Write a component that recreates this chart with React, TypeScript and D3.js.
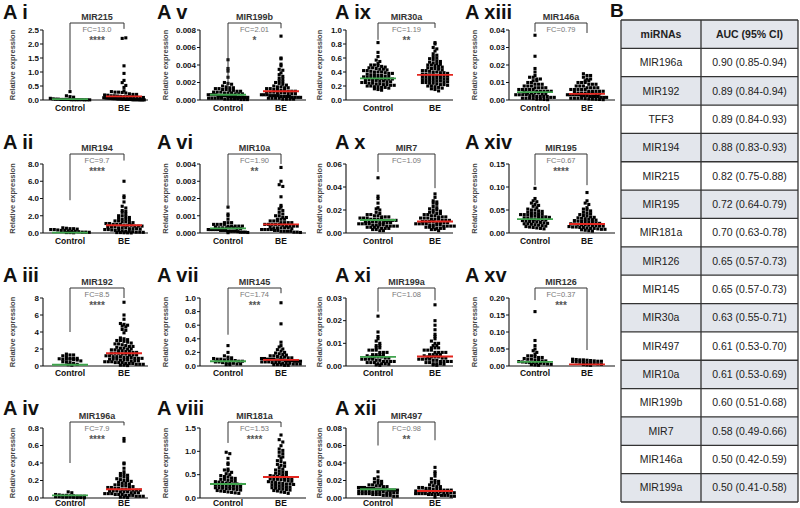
import React from 'react';
import * as d3 from 'd3';

// ---- data ----
const iCtrl = [0.3,0.15,0.12,0.1,0.06,0.04,0.03,0.03,0.02,0.02,0.02,0.02,0.01,0.01,0.01,0.01,0.01,0.005,0.005,0.005];
const iBE = [2.2,2.22,1.22,0.95,0.7,0.62,0.52,0.45,0.33,0.3,0.28,0.28,0.27,0.25,0.22,0.2,0.2,0.18,0.17,0.15,0.15,0.14,0.13,0.12,0.12,0.11,0.1,0.1,0.09,0.09,0.08,0.08,0.07,0.07,0.06,0.06,0.05,0.05,0.05,0.04,0.04,0.04,0.03,0.03,0.03,0.02,0.02,0.02,0.02,0.01,0.01,0.01,0.01,0.01,0.005,0.005,0.005,0.005];

const vCtrl = [0.0046,0.0036,0.0033,0.0026,0.002,0.0019,0.0018,0.0016,0.0015,0.0014,0.0014,0.0013,0.0013,0.0012,0.0012,0.0011,0.0011,0.001,0.001,0.0009,0.0009,0.0009,0.0008,0.0008,0.0008,0.0007,0.0007,0.0007,0.0006,0.0006,0.0006,0.0006,0.0005,0.0005,0.0005,0.0005,0.0004,0.0004,0.0004,0.0004,0.0003,0.0003,0.0003,0.0003,0.0003,0.0002,0.0002,0.0002,0.0002,0.0002,0.0001,0.0001,0.0001,0.0001,0.0001,0.00005,0.00005,0.00005];
const vBE = [0.0073,0.0048,0.0047,0.0041,0.0039,0.0035,0.0034,0.0031,0.0029,0.0027,0.0025,0.0024,0.0022,0.0021,0.002,0.0019,0.0018,0.0017,0.0016,0.0015,0.0015,0.0014,0.0014,0.0013,0.0013,0.0012,0.0012,0.0011,0.0011,0.001,0.001,0.001,0.0009,0.0009,0.0009,0.0008,0.0008,0.0008,0.0007,0.0007,0.0007,0.0006,0.0006,0.0006,0.0005,0.0005,0.0005,0.0005,0.0004,0.0004,0.0004,0.0004,0.0003,0.0003,0.0003,0.0003,0.0002,0.0002,0.0002,0.0002,0.0001,0.0001,0.0001,0.0001];

const ixCtrl = [0.82,0.68,0.62,0.57,0.55,0.52,0.5,0.5,0.49,0.48,0.47,0.46,0.46,0.45,0.44,0.44,0.43,0.42,0.42,0.41,0.4,0.4,0.4,0.39,0.38,0.38,0.37,0.36,0.36,0.35,0.35,0.34,0.34,0.33,0.33,0.32,0.32,0.31,0.31,0.3,0.3,0.3,0.29,0.29,0.28,0.28,0.27,0.27,0.26,0.26,0.25,0.25,0.24,0.24,0.23,0.23,0.22,0.22,0.21,0.21,0.2,0.2,0.19,0.19,0.18,0.18,0.17,0.16,0.15,0.14];
const ixBE = [0.82,0.8,0.75,0.73,0.7,0.66,0.64,0.62,0.6,0.59,0.58,0.56,0.55,0.54,0.53,0.52,0.51,0.5,0.5,0.49,0.48,0.47,0.46,0.45,0.45,0.44,0.43,0.42,0.42,0.41,0.4,0.4,0.39,0.39,0.38,0.37,0.37,0.36,0.36,0.35,0.35,0.34,0.34,0.33,0.33,0.32,0.32,0.31,0.31,0.3,0.3,0.29,0.29,0.28,0.28,0.27,0.27,0.26,0.26,0.25,0.25,0.24,0.24,0.23,0.22,0.22,0.21,0.2,0.2,0.19,0.18,0.17,0.16,0.15,0.13];

const xiiiCtrl = [0.037,0.025,0.018,0.016,0.014,0.013,0.013,0.012,0.012,0.011,0.011,0.01,0.01,0.009,0.009,0.009,0.008,0.008,0.008,0.007,0.007,0.007,0.007,0.006,0.006,0.006,0.006,0.006,0.005,0.005,0.005,0.005,0.005,0.0045,0.004,0.004,0.004,0.004,0.0035,0.0035,0.003,0.003,0.003,0.003,0.0025,0.0025,0.002,0.002,0.002,0.002,0.0015,0.0015,0.001,0.001,0.001,0.0008,0.0005,0.0005,0.0003,0.0002];
const xiiiBE = [0.015,0.014,0.014,0.013,0.012,0.012,0.011,0.011,0.01,0.01,0.01,0.009,0.009,0.009,0.008,0.008,0.008,0.007,0.007,0.007,0.007,0.006,0.006,0.006,0.006,0.006,0.005,0.005,0.005,0.005,0.005,0.0045,0.004,0.004,0.004,0.004,0.004,0.0035,0.0035,0.003,0.003,0.003,0.003,0.003,0.0025,0.0025,0.0025,0.002,0.002,0.002,0.002,0.0015,0.0015,0.0015,0.001,0.001,0.001,0.001,0.0008,0.0006,0.0005,0.0004,0.0003,0.0002];

const iiCtrl = [0.6,0.55,0.5,0.5,0.45,0.4,0.4,0.35,0.3,0.3,0.25,0.2,0.2,0.15,0.1,0.1,0.08,0.05,0.05,0.03];
const iiBE = [6.0,4.3,4.1,3.6,3.1,2.9,2.6,2.5,2.4,2.2,2.0,2.0,1.9,1.8,1.7,1.6,1.6,1.5,1.4,1.4,1.3,1.3,1.2,1.2,1.1,1.1,1.0,1.0,1.0,0.9,0.9,0.9,0.8,0.8,0.8,0.7,0.7,0.7,0.6,0.6,0.6,0.5,0.5,0.5,0.45,0.4,0.4,0.35,0.3,0.3,0.25,0.2,0.2,0.15,0.1,0.1,0.08,0.05,0.05,0.03,0.02,0.01];

const viCtrl = [0.0015,0.0011,0.001,0.0008,0.0006,0.0006,0.0006,0.0005,0.0005,0.0005,0.0005,0.0004,0.0004,0.0004,0.0004,0.0004,0.00035,0.0003,0.0003,0.0003,0.0003,0.0003,0.00025,0.00025,0.0002,0.0002,0.0002,0.0002,0.0002,0.00015,0.00015,0.00015,0.0001,0.0001,0.0001,0.0001,0.00008,0.00005,0.00005,0.00005,0.00003,0.00002];
const viBE = [0.0038,0.003,0.0028,0.0027,0.0021,0.0016,0.0015,0.0014,0.0013,0.0012,0.0011,0.001,0.001,0.0009,0.0009,0.0008,0.0008,0.0008,0.0007,0.0007,0.0007,0.0006,0.0006,0.0006,0.0006,0.0005,0.0005,0.0005,0.0005,0.0005,0.00045,0.0004,0.0004,0.0004,0.0004,0.00035,0.0003,0.0003,0.0003,0.0003,0.0003,0.00025,0.0002,0.0002,0.0002,0.0002,0.00015,0.00015,0.0001,0.0001,0.0001,0.0001,0.00005,0.00005,0.00003];

const xCtrl = [0.048,0.032,0.03,0.026,0.022,0.021,0.02,0.018,0.017,0.016,0.016,0.015,0.015,0.014,0.014,0.014,0.013,0.013,0.013,0.012,0.012,0.012,0.012,0.011,0.011,0.011,0.011,0.01,0.01,0.01,0.01,0.009,0.009,0.009,0.009,0.008,0.008,0.008,0.008,0.007,0.007,0.007,0.007,0.006,0.006,0.006,0.006,0.005,0.005,0.005,0.005,0.004,0.004,0.004,0.003,0.003,0.002,0.002];
const xBE = [0.034,0.031,0.028,0.027,0.026,0.025,0.023,0.022,0.021,0.02,0.02,0.019,0.018,0.018,0.017,0.017,0.016,0.016,0.015,0.015,0.014,0.014,0.014,0.013,0.013,0.013,0.012,0.012,0.012,0.011,0.011,0.011,0.01,0.01,0.01,0.01,0.009,0.009,0.009,0.009,0.008,0.008,0.008,0.008,0.007,0.007,0.007,0.007,0.006,0.006,0.006,0.006,0.005,0.005,0.005,0.004,0.004,0.004,0.003,0.003,0.002];

const xivCtrl = [0.097,0.075,0.07,0.068,0.065,0.062,0.06,0.058,0.055,0.052,0.05,0.05,0.048,0.047,0.045,0.044,0.043,0.042,0.041,0.04,0.04,0.039,0.038,0.037,0.036,0.035,0.035,0.034,0.033,0.032,0.031,0.03,0.03,0.029,0.028,0.027,0.026,0.025,0.025,0.024,0.023,0.022,0.021,0.02,0.02,0.019,0.018,0.017,0.016,0.015,0.014,0.013,0.012,0.011,0.01,0.009];
const xivBE = [0.088,0.07,0.065,0.062,0.055,0.052,0.05,0.048,0.045,0.043,0.042,0.04,0.038,0.037,0.035,0.034,0.033,0.032,0.031,0.03,0.029,0.028,0.027,0.026,0.025,0.025,0.024,0.023,0.022,0.021,0.02,0.02,0.019,0.018,0.018,0.017,0.016,0.016,0.015,0.015,0.014,0.013,0.013,0.012,0.012,0.011,0.01,0.01,0.009,0.008,0.008,0.007,0.006,0.005,0.004];

const iiiCtrl = [1.4,1.3,1.3,1.2,1.1,0.9,0.9,0.9,0.85,0.8,0.8,0.8,0.75,0.7,0.6,0.5,0.45,0.4,0.3,0.2,0.15,0.1];
const iiiBE = [7.5,6.0,5.5,5.0,4.9,4.8,4.7,4.6,4.3,4.2,3.9,3.3,3.2,3.1,3.0,3.0,2.9,2.8,2.7,2.6,2.6,2.5,2.4,2.3,2.3,2.2,2.1,2.1,2.0,2.0,1.9,1.9,1.8,1.8,1.7,1.7,1.6,1.6,1.5,1.5,1.5,1.4,1.4,1.3,1.3,1.3,1.2,1.2,1.1,1.1,1.1,1.0,1.0,1.0,0.9,0.9,0.9,0.8,0.8,0.8,0.7,0.7,0.7,0.6,0.6,0.6,0.5,0.5,0.5,0.4,0.4,0.4,0.3,0.3,0.3,0.2,0.2,0.2,0.1,0.1,0.05];

const viiCtrl = [0.3,0.2,0.15,0.13,0.12,0.11,0.1,0.1,0.09,0.09,0.08,0.08,0.07,0.07,0.06,0.06,0.05,0.05,0.04,0.04,0.03,0.03,0.02,0.02];
const viiBE = [0.93,0.62,0.35,0.3,0.28,0.25,0.24,0.22,0.2,0.19,0.18,0.17,0.16,0.15,0.15,0.14,0.13,0.13,0.12,0.12,0.11,0.11,0.1,0.1,0.1,0.09,0.09,0.09,0.08,0.08,0.08,0.07,0.07,0.07,0.06,0.06,0.06,0.05,0.05,0.05,0.04,0.04,0.04,0.03,0.03,0.03,0.02,0.02,0.02,0.01,0.01];

const xiCtrl = [0.022,0.015,0.013,0.012,0.011,0.01,0.009,0.009,0.008,0.008,0.007,0.007,0.007,0.006,0.006,0.006,0.005,0.005,0.005,0.005,0.0045,0.004,0.004,0.004,0.004,0.0035,0.0035,0.003,0.003,0.003,0.003,0.0025,0.0025,0.002,0.002,0.002,0.002,0.0015,0.0015,0.0015,0.001,0.001,0.001,0.0008,0.0005,0.0003];
const xiBE = [0.027,0.02,0.018,0.016,0.014,0.013,0.012,0.011,0.01,0.01,0.009,0.009,0.008,0.008,0.008,0.007,0.007,0.007,0.006,0.006,0.006,0.006,0.005,0.005,0.005,0.005,0.0045,0.004,0.004,0.004,0.004,0.0035,0.0035,0.003,0.003,0.003,0.003,0.0025,0.0025,0.002,0.002,0.002,0.002,0.0015,0.0015,0.001,0.001,0.001,0.0008,0.0005,0.0003];

const xvCtrl = [0.16,0.075,0.06,0.05,0.045,0.04,0.035,0.03,0.03,0.028,0.025,0.025,0.022,0.02,0.02,0.018,0.017,0.015,0.015,0.013,0.012,0.011,0.01,0.01,0.009,0.008,0.007,0.006,0.005,0.004,0.003,0.002];
const xvBE = [0.02,0.019,0.018,0.018,0.017,0.016,0.015,0.014,0.014,0.013,0.012,0.011,0.01,0.009,0.008,0.007,0.006,0.005,0.004,0.003,0.002];

const ivCtrl = [0.07,0.06,0.04,0.035,0.03,0.03,0.025,0.025,0.02,0.02,0.02,0.015,0.015,0.01,0.01,0.01,0.008,0.005,0.005,0.003];
const ivBE = [0.68,0.65,0.4,0.39,0.34,0.3,0.28,0.27,0.26,0.25,0.24,0.23,0.22,0.21,0.2,0.2,0.19,0.18,0.17,0.17,0.16,0.15,0.15,0.14,0.14,0.13,0.13,0.12,0.12,0.11,0.11,0.1,0.1,0.1,0.09,0.09,0.09,0.08,0.08,0.08,0.07,0.07,0.07,0.06,0.06,0.06,0.05,0.05,0.05,0.04,0.04,0.04,0.03,0.03,0.03,0.02,0.02,0.02,0.01,0.01,0.005];

const viiiCtrl = [0.98,0.95,0.85,0.75,0.72,0.62,0.6,0.58,0.55,0.52,0.5,0.48,0.46,0.45,0.43,0.42,0.4,0.4,0.38,0.37,0.36,0.35,0.34,0.33,0.32,0.31,0.3,0.3,0.29,0.28,0.28,0.27,0.26,0.25,0.25,0.24,0.23,0.22,0.22,0.21,0.2,0.2,0.19,0.18,0.17,0.16,0.15,0.14,0.13,0.12,0.11,0.1];
const viiiBE = [1.35,1.25,1.2,1.12,1.05,1.02,0.98,0.95,0.9,0.88,0.85,0.8,0.78,0.75,0.72,0.7,0.68,0.65,0.62,0.6,0.58,0.56,0.55,0.53,0.52,0.5,0.5,0.48,0.47,0.46,0.45,0.44,0.43,0.42,0.41,0.4,0.4,0.39,0.38,0.37,0.36,0.35,0.34,0.33,0.32,0.31,0.3,0.3,0.29,0.28,0.27,0.26,0.25,0.24,0.23,0.22,0.21,0.2,0.19,0.18,0.17,0.16,0.15,0.13,0.12,0.1];

const xiiCtrl = [0.03,0.024,0.022,0.02,0.019,0.018,0.017,0.016,0.015,0.015,0.014,0.014,0.013,0.013,0.012,0.012,0.012,0.011,0.011,0.011,0.01,0.01,0.01,0.01,0.009,0.009,0.009,0.009,0.008,0.008,0.008,0.008,0.007,0.007,0.007,0.007,0.006,0.006,0.006,0.006,0.005,0.005,0.005,0.005,0.004,0.004,0.004,0.003,0.003,0.003,0.002,0.002];
const xiiBE = [0.035,0.03,0.028,0.025,0.022,0.02,0.019,0.018,0.017,0.016,0.015,0.014,0.013,0.013,0.012,0.012,0.011,0.011,0.01,0.01,0.01,0.009,0.009,0.009,0.008,0.008,0.008,0.008,0.007,0.007,0.007,0.007,0.006,0.006,0.006,0.006,0.005,0.005,0.005,0.005,0.004,0.004,0.004,0.004,0.003,0.003,0.003,0.002,0.002,0.001];

const groups = ['Control', 'BE'];

// table B
const tableHeader = ['miRNAs', 'AUC (95% CI)'];
const tableGenes = ['MIR196a','MIR192','TFF3','MIR194','MIR215','MIR195','MIR181a','MIR126','MIR145','MIR30a','MIR497','MIR10a','MIR199b','MIR7','MIR146a','MIR199a'];
const tableAuc = ['0.90 (0.85-0.94)','0.89 (0.84-0.94)','0.89 (0.84-0.93)','0.88 (0.83-0.93)','0.82 (0.75-0.88)','0.72 (0.64-0.79)','0.70 (0.63-0.78)','0.65 (0.57-0.73)','0.65 (0.57-0.73)','0.63 (0.55-0.71)','0.61 (0.53-0.70)','0.61 (0.53-0.69)','0.60 (0.51-0.68)','0.58 (0.49-0.66)','0.50 (0.42-0.59)','0.50 (0.41-0.58)'];

type Panel = {
  id: string; gene: string; fc: string; stars: string; col: number; row: number;
  ticks: number[]; fmt: string; ctrl: number[]; be: number[];
  lines: [number, number]; legs: [number, number];
};

const panels: Panel[] = [
  { id: 'i', gene: 'MIR215', fc: 'FC=13.0', stars: '****', col: 0, row: 0, ticks: [0, 0.5, 1, 1.5, 2, 2.5], fmt: '.1f', ctrl: iCtrl, be: iBE, lines: [0.03, 0.13], legs: [0.36, 2.54] },
  { id: 'ii', gene: 'MIR194', fc: 'FC=9.7', stars: '****', col: 0, row: 1, ticks: [0, 2, 4, 6, 8], fmt: '.1f', ctrl: iiCtrl, be: iiBE, lines: [0.05, 0.9], legs: [3.8, 8.4] },
  { id: 'iii', gene: 'MIR192', fc: 'FC=8.5', stars: '****', col: 0, row: 2, ticks: [0, 2, 4, 6, 8], fmt: 'd', ctrl: iiiCtrl, be: iiiBE, lines: [0.15, 1.5], legs: [4.0, 8.0] },
  { id: 'iv', gene: 'MIR196a', fc: 'FC=7.9', stars: '****', col: 0, row: 3, ticks: [0, 0.2, 0.4, 0.6, 0.8], fmt: '.1f', ctrl: ivCtrl, be: ivBE, lines: [0.03, 0.1], legs: [0.4, 0.83] },
  { id: 'v', gene: 'MIR199b', fc: 'FC=2.01', stars: '*', col: 1, row: 0, ticks: [0, 0.002, 0.004, 0.006, 0.008], fmt: '.3f', ctrl: vCtrl, be: vBE, lines: [0.0006, 0.001], legs: [0.00126, 0.0082] },
  { id: 'vi', gene: 'MIR10a', fc: 'FC=1.90', stars: '**', col: 1, row: 1, ticks: [0, 0.001, 0.002, 0.003, 0.004], fmt: '.3f', ctrl: viCtrl, be: viBE, lines: [0.00027, 0.0005], legs: [0.0015, 0.004] },
  { id: 'vii', gene: 'MIR145', fc: 'FC=1.74', stars: '***', col: 1, row: 2, ticks: [0, 0.2, 0.4, 0.6, 0.8, 1.0], fmt: '.1f', ctrl: viiCtrl, be: viiBE, lines: [0.07, 0.09], legs: [0.46, 1.07] },
  { id: 'viii', gene: 'MIR181a', fc: 'FC=1.53', stars: '****', col: 1, row: 3, ticks: [0, 0.5, 1.0, 1.5], fmt: '.1f', ctrl: viiiCtrl, be: viiiBE, lines: [0.3, 0.45], legs: [1.18, 1.52] },
  { id: 'ix', gene: 'MIR30a', fc: 'FC=1.19', stars: '**', col: 2, row: 0, ticks: [0, 0.2, 0.4, 0.6, 0.8, 1.0], fmt: '.1f', ctrl: ixCtrl, be: ixBE, lines: [0.31, 0.36], legs: [0.86, 1.03] },
  { id: 'x', gene: 'MIR7', fc: 'FC=1.09', stars: '', col: 2, row: 1, ticks: [0, 0.02, 0.04, 0.06], fmt: '.2f', ctrl: xCtrl, be: xBE, lines: [0.0113, 0.01], legs: [0.053, 0.039] },
  { id: 'xi', gene: 'MIR199a', fc: 'FC=1.08', stars: '', col: 2, row: 2, ticks: [0, 0.01, 0.02, 0.03], fmt: '.2f', ctrl: xiCtrl, be: xiBE, lines: [0.004, 0.0042], legs: [0.024, 0.029] },
  { id: 'xii', gene: 'MIR497', fc: 'FC=0.98', stars: '**', col: 2, row: 3, ticks: [0, 0.02, 0.04, 0.06, 0.08], fmt: '.2f', ctrl: xiiCtrl, be: xiiBE, lines: [0.01, 0.008], legs: [0.06, 0.066] },
  { id: 'xiii', gene: 'MIR146a', fc: 'FC=0.79', stars: '', col: 3, row: 0, ticks: [0, 0.01, 0.02, 0.03, 0.04], fmt: '.2f', ctrl: xiiiCtrl, be: xiiiBE, lines: [0.0045, 0.0035], legs: [0.039, 0.0383] },
  { id: 'xiv', gene: 'MIR195', fc: 'FC=0.67', stars: '****', col: 3, row: 1, ticks: [0, 0.05, 0.1, 0.15], fmt: '.2f', ctrl: xivCtrl, be: xivBE, lines: [0.03, 0.0196], legs: [0.104, 0.104] },
  { id: 'xv', gene: 'MIR126', fc: 'FC=0.37', stars: '***', col: 3, row: 2, ticks: [0, 0.05, 0.1, 0.15, 0.2], fmt: '.2f', ctrl: xvCtrl, be: xvBE, lines: [0.012, 0.005], legs: [0.194, 0.047] },
];

// ---- layout ----
const cols = [
  { axis: 43, end: 148, cx: [70, 124], title: 3, ylab: 10 },
  { axis: 200, end: 306, cx: [228, 281], title: 157, ylab: 163 },
  { axis: 346, end: 453, cx: [378, 435], title: 335, ylab: 317 },
  { axis: 509, end: 615, cx: [535, 587], title: 465, ylab: 472 },
];
const rows = [
  { top: 30, bottom: 100, bracket: 23, title: 19, cat: 111 },
  { top: 164, bottom: 233, bracket: 154, title: 149, cat: 244 },
  { top: 298, bottom: 366, bracket: 288, title: 282, cat: 376 },
  { top: 428, bottom: 498, bracket: 422, title: 415, cat: 506 },
];

const FONT = 'Liberation Sans, Arial, sans-serif';
const GREEN = '#3fa34d';
const RED = '#e3261f';
const DOT = 3.1;

// simple row-binned beeswarm like Prism's scatter dot plot
function swarm(values: number[], y: d3.ScaleLinear<number, number>, cx: number) {
  const bins = d3.group(values.map((v) => ({ v, py: y(v) })), (d) => Math.round(d.py / 3));
  const out: { x: number; y: number }[] = [];
  bins.forEach((pts) => {
    const n = pts.length;
    const step = Math.min(3.6, 42 / n);
    pts.forEach((p, i) => out.push({ x: cx + (i - (n - 1) / 2) * step, y: p.py }));
  });
  return out;
}

const PanelView: React.FC<{ p: Panel }> = ({ p }) => {
  const c = cols[p.col];
  const r = rows[p.row];
  const y = d3.scaleLinear().domain([0, p.ticks[p.ticks.length - 1]]).range([r.bottom, r.top]);
  const fmt = d3.format(p.fmt);
  const midX = (c.cx[0] + c.cx[1]) / 2;
  const legY = p.legs.map((v) => Math.max(r.bracket + 2, y(v)));
  return (
    <g>
      <text x={c.title} y={r.title} fontFamily={FONT} fontWeight="bold" fontSize={20} fill="#111">{`A ${p.id}`}</text>
      <text transform={`translate(${c.ylab + 5},${(r.top + r.bottom) / 2}) rotate(-90)`} textAnchor="middle"
        fontFamily={FONT} fontWeight="bold" fontSize={7.5} fill="#444">Relative expression</text>
      {/* axes */}
      <line x1={c.axis} x2={c.axis} y1={r.top} y2={r.bottom} stroke="#111" strokeWidth={1.1} />
      <line x1={c.axis} x2={c.end} y1={r.bottom} y2={r.bottom} stroke="#111" strokeWidth={1.1} />
      {p.ticks.map((t) => (
        <g key={t}>
          <line x1={c.axis - 3} x2={c.axis} y1={y(t)} y2={y(t)} stroke="#111" strokeWidth={1} />
          <text x={c.axis - 4} y={y(t)} dy="0.35em" textAnchor="end" fontFamily={FONT} fontWeight="bold" fontSize={8} fill="#111">{fmt(t)}</text>
        </g>
      ))}
      {groups.map((g, i) => (
        <text key={g} x={c.cx[i]} y={r.cat} textAnchor="middle" fontFamily={FONT} fontWeight="bold" fontSize={8.5} fill="#111">{g}</text>
      ))}
      {/* dots */}
      {[p.ctrl, p.be].map((vals, gi) =>
        swarm(vals, y, c.cx[gi]).map((d, k) => (
          <rect key={`${gi}-${k}`} x={d.x - DOT / 2} y={d.y - DOT / 2} width={DOT} height={DOT} fill="#000" />
        ))
      )}
      {/* centre lines */}
      {p.lines.map((v, gi) => (
        <line key={gi} x1={c.cx[gi] - 18} x2={c.cx[gi] + 18} y1={y(v)} y2={y(v)} stroke={gi === 0 ? GREEN : RED} strokeWidth={1.8} />
      ))}
      {/* significance bracket */}
      <path d={`M${c.cx[0]},${legY[0]}V${r.bracket}H${c.cx[1]}V${legY[1]}`} fill="none" stroke="#333" strokeWidth={1} />
      <text x={midX} y={r.bracket - 3} textAnchor="middle" fontFamily={FONT} fontWeight="bold" fontSize={9} fill="#333">{p.gene}</text>
      <text x={midX} y={r.bracket + 9} textAnchor="middle" fontFamily={FONT} fontSize={7.5} fill="#777">{p.fc}</text>
      {p.stars && (
        <text x={midX} y={r.bracket + 21} textAnchor="middle" fontFamily={FONT} fontWeight="bold" fontSize={10} fill="#555">{p.stars}</text>
      )}
    </g>
  );
};

const AucTable: React.FC = () => {
  const x0 = 621, x1 = 701, x2 = 798;
  const yRows = d3.scaleLinear().domain([0, tableGenes.length + 1]).range([20, 502]);
  const rowsAll = [tableHeader, ...tableGenes.map((g, i) => [g, tableAuc[i]])];
  return (
    <g>
      <text x={610} y={17} fontFamily={FONT} fontWeight="bold" fontSize={19} fill="#111">B</text>
      {rowsAll.map((row, i) => {
        const top = yRows(i), h = yRows(i + 1) - yRows(i);
        return (
          <g key={i}>
            <rect x={x0} y={top} width={x2 - x0} height={h} fill={i % 2 === 0 ? '#e3e6ec' : '#fff'} />
            <text x={(x0 + x1) / 2} y={top + h / 2} dy="0.35em" textAnchor="middle" fontFamily={FONT}
              fontWeight={i === 0 ? 'bold' : 'normal'} fontSize={10.5} fill="#222">{row[0]}</text>
            <text x={(x1 + x2) / 2} y={top + h / 2} dy="0.35em" textAnchor="middle" fontFamily={FONT}
              fontWeight={i === 0 ? 'bold' : 'normal'} fontSize={10.5} fill="#222">{row[1]}</text>
          </g>
        );
      })}
      {d3.range(rowsAll.length + 1).map((i) => (
        <line key={i} x1={x0} x2={x2} y1={yRows(i)} y2={yRows(i)} stroke="#333" strokeWidth={1.3} />
      ))}
      {[x0, x1, x2].map((x) => (
        <line key={x} x1={x} x2={x} y1={20} y2={502} stroke="#333" strokeWidth={1.3} />
      ))}
    </g>
  );
};

export default function App() {
  return (
    <svg width={800} height={508} style={{ position: 'absolute', left: 0, top: 0, background: '#fff' }}>
      <rect width={800} height={508} fill="#fff" />
      {panels.map((p) => <PanelView key={p.id} p={p} />)}
      <AucTable />
    </svg>
  );
}
